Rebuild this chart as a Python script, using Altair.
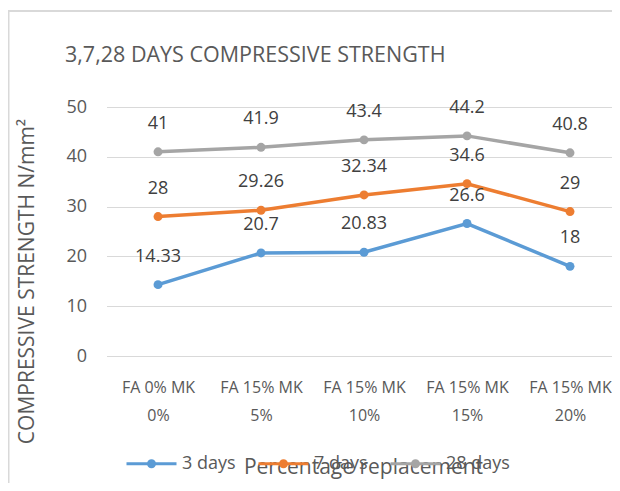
import altair as alt
import pandas as pd

categories = ["FA 0% MK\n0%", "FA 15% MK\n5%", "FA 15% MK\n10%", "FA 15% MK\n15%", "FA 15% MK\n20%"]
series = ["3 days", "7 days", "28 days"]
days3 = [14.33, 20.7, 20.83, 26.6, 18]
days7 = [28, 29.26, 32.34, 34.6, 29]
days28 = [41, 41.9, 43.4, 44.2, 40.8]
colors = ["#5B9BD5", "#ED7D31", "#A5A5A5"]
title_text = "3,7,28 DAYS COMPRESSIVE STRENGTH"
y_title = "COMPRESSIVE STRENGTH N/mm\u00b2"
x_title = "Percentage replacement"

rows = []
for s, vals in zip(series, [days3, days7, days28]):
    for c, v in zip(categories, vals):
        rows.append({"cat": c, "series": s, "value": v, "label": f"{v:g}"})
df = pd.DataFrame(rows)

FONT = "Open Sans"
LEG_PATH = ("M-2.5,0 L2.5,0 "
            "M0.3,0 A0.3,0.3 0 1,1 -0.3,0 A0.3,0.3 0 1,1 0.3,0 "
            "M0.15,0 A0.15,0.15 0 1,1 -0.15,0 A0.15,0.15 0 1,1 0.15,0")

x_enc = alt.X("cat:N", sort=categories,
              scale=alt.Scale(type="point", padding=0.454, align=0.551),
              axis=alt.Axis(title=x_title, labelAngle=0, ticks=False, domain=False,
                            labelExpr="split(datum.label, '\\n')",
                            labelLineHeight=28, labelPadding=23,
                            labelFont=FONT, labelFontSize=16, labelColor="#595959",
                            titleFont=FONT, titleFontSize=21, titleFontWeight="normal",
                            titleColor="#595959", titleX=256.5, titleY=117,
                            titleBaseline="alphabetic", titleAlign="center"))
y_enc = alt.Y("value:Q", scale=alt.Scale(domain=[0, 50], nice=False),
              axis=alt.Axis(title=y_title, values=[0, 10, 20, 30, 40, 50], ticks=False,
                            domain=False, grid=True, gridColor="#D9D9D9", gridWidth=1,
                            labelPadding=20, labelFont=FONT, labelFontSize=18,
                            labelColor="#595959",
                            titleFont=FONT, titleFontSize=21, titleFontWeight="normal",
                            titleColor="#595959", titleAngle=-90, titleX=-73.5, titleY=174,
                            titleAlign="center", titleBaseline="alphabetic"))
color_enc = alt.Color("series:N", scale=alt.Scale(domain=series, range=colors),
                      legend=alt.Legend(title=None, orient="none", direction="horizontal",
                                        legendX=33.5, legendY=345, padding=0,
                                        symbolType=LEG_PATH, symbolSize=400,
                                        symbolStrokeWidth=3, labelOffset=19,
                                        columnPadding=16, labelFont=FONT,
                                        labelFontSize=18, labelColor="#595959"))

base = alt.Chart(df)
lines = base.mark_line(strokeWidth=3.5).encode(
    x=x_enc, y=y_enc, color=color_enc)
points = base.mark_point(filled=True, size=80, opacity=1).encode(
    x=x_enc, y=y_enc, color=color_enc)
labels = base.mark_text(dy=-28, font=FONT, fontSize=18, color="#404040",
                        baseline="middle").encode(x=x_enc, y=y_enc, text="label:N")

frame = alt.Chart(pd.DataFrame({"f": [0]})).mark_rect(
    fill="transparent", stroke="#D9D9D9", strokeWidth=2).encode(
    x=alt.value(-98), x2=alt.value(530), y=alt.value(-96), y2=alt.value(600))

chart = alt.layer(frame, lines, points, labels).properties(
    width=505.5, height=249,
    autosize=alt.AutoSizeParams(type="none"),
    padding={"left": 98.5, "top": 99, "right": 0, "bottom": 127},
    title=alt.TitleParams(title_text, anchor="start", frame="group", dx=-41.5,
                          offset=0, dy=73, baseline="alphabetic", font=FONT, fontSize=21.5,
                          fontWeight="normal", color="#595959"),
).configure_view(stroke=None)

chart.save("out.html", embed_options={"renderer": "svg", "actions": False})
